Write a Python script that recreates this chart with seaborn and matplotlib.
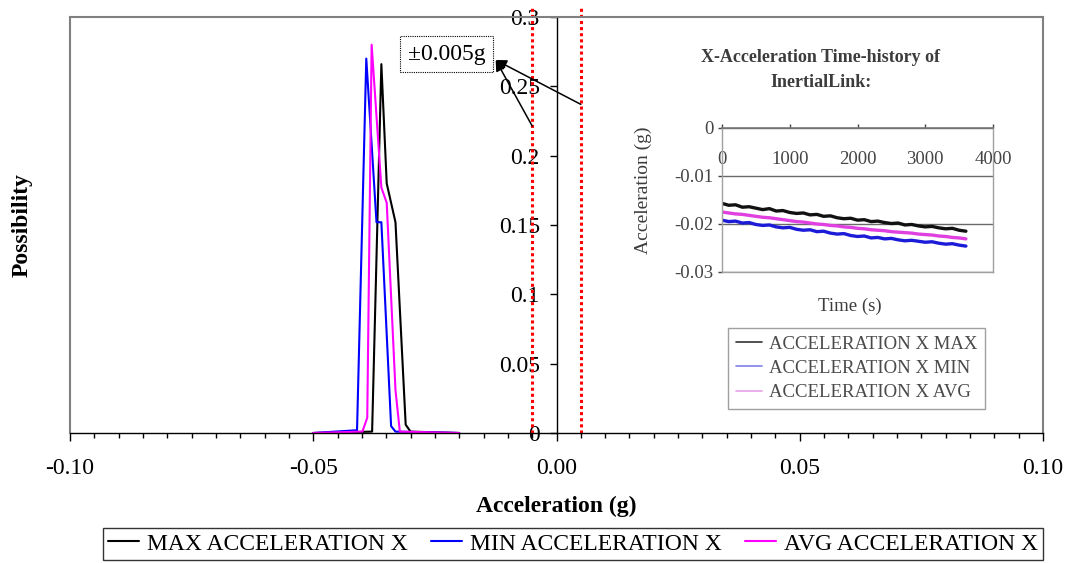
import numpy as np
import pandas as pd
import matplotlib
matplotlib.use('Agg')
import matplotlib.pyplot as plt
from matplotlib.lines import Line2D
from matplotlib.ticker import FixedLocator, FixedFormatter, MultipleLocator
import seaborn as sns

# ---------------- main chart data (histogram of acceleration) ----------------
series_names = ['MAX ACCELERATION X', 'MIN ACCELERATION X', 'AVG ACCELERATION X']
series_colors = ['#000000', '#0000ff', '#ff00ff']

max_acc = [-0.050, -0.0379, -0.0360, -0.0349, -0.0331, -0.0310, -0.0300, -0.020]
max_pos = [0.0, 0.001, 0.266, 0.180, 0.152, 0.006, 0.001, 0.0]

min_acc = [-0.050, -0.0410, -0.0391, -0.0370, -0.0360, -0.0340, -0.0331, -0.020]
min_pos = [0.0, 0.002, 0.270, 0.152, 0.152, 0.005, 0.001, 0.0]

avg_acc = [-0.050, -0.0399, -0.0389, -0.0380, -0.0360, -0.0349, -0.0331, -0.0322, -0.020]
avg_pos = [0.0, 0.001, 0.011, 0.280, 0.177, 0.166, 0.031, 0.001, 0.0]

x_ticks = [-0.10, -0.05, 0.00, 0.05, 0.10]
x_tick_labels = ['-0.10', '-0.05', '0.00', '0.05', '0.10']
y_ticks = [0, 0.05, 0.1, 0.15, 0.2, 0.25, 0.3]
y_tick_labels = ['0', '0.05', '0.1', '0.15', '0.2', '0.25', '0.3']

band_limits = [-0.005, 0.005]
band_label = '±0.005g'

# ---------------- inset data (time history) ----------------
inset_names = ['ACCELERATION X MAX', 'ACCELERATION X MIN', 'ACCELERATION X AVG']
inset_colors = ['#111111', '#1c1cd8', '#e040e0']
inset_legend_colors = ['#333333', '#8080ee', '#e8a0e8']

times = [0, 100, 200, 300, 400, 500, 600, 700, 800, 900,
         1000, 1100, 1200, 1300, 1400, 1500, 1600, 1700, 1800, 1900,
         2000, 2100, 2200, 2300, 2400, 2500, 2600, 2700, 2800, 2900,
         3000, 3100, 3200, 3300, 3400, 3500, 3600]

acc_max = [-0.0157, -0.0161, -0.0160, -0.0165, -0.0164, -0.0167, -0.0170, -0.0168, -0.0173, -0.0172,
           -0.0176, -0.0178, -0.0177, -0.0181, -0.0180, -0.0184, -0.0183, -0.0187, -0.0189, -0.0188,
           -0.0192, -0.0191, -0.0195, -0.0194, -0.0197, -0.0199, -0.0198, -0.0202, -0.0201, -0.0204,
           -0.0206, -0.0205, -0.0208, -0.0210, -0.0209, -0.0213, -0.0215]
acc_min = [-0.0192, -0.0195, -0.0194, -0.0198, -0.0197, -0.0201, -0.0203, -0.0202, -0.0206, -0.0208,
           -0.0207, -0.0211, -0.0213, -0.0212, -0.0216, -0.0215, -0.0219, -0.0221, -0.0220, -0.0224,
           -0.0226, -0.0225, -0.0229, -0.0228, -0.0231, -0.0230, -0.0233, -0.0235, -0.0234, -0.0236,
           -0.0238, -0.0237, -0.0240, -0.0242, -0.0241, -0.0244, -0.0246]
acc_avg = [-0.0175, -0.0177, -0.0179, -0.0180, -0.0182, -0.0184, -0.0186, -0.0187, -0.0189, -0.0191,
           -0.0193, -0.0195, -0.0196, -0.0198, -0.0200, -0.0201, -0.0203, -0.0204, -0.0206, -0.0207,
           -0.0209, -0.0210, -0.0212, -0.0213, -0.0214, -0.0216, -0.0217, -0.0218, -0.0219, -0.0221,
           -0.0222, -0.0223, -0.0225, -0.0226, -0.0228, -0.0229, -0.0231]

inset_x_ticks = [0, 1000, 2000, 3000, 4000]
inset_x_labels = ['0', '1000', '2000', '3000', '4000']
inset_y_ticks = [0, -0.01, -0.02, -0.03]
inset_y_labels = ['0', '-0.01', '-0.02', '-0.03']

# ---------------- style ----------------
sns.set_style('white')
plt.rcParams['font.family'] = ['Liberation Serif', 'DejaVu Serif']
plt.rcParams['text.color'] = 'black'
plt.rcParams['axes.labelcolor'] = 'black'

W, H = 1071, 563
fig = plt.figure(figsize=(W / 100, H / 100), dpi=100)
ax = fig.add_axes([70 / W, 1 - 433 / H, 973 / W, 416 / H])

df = pd.concat([
    pd.DataFrame({'Acceleration': max_acc, 'Possibility': max_pos, 'Series': series_names[0]}),
    pd.DataFrame({'Acceleration': min_acc, 'Possibility': min_pos, 'Series': series_names[1]}),
    pd.DataFrame({'Acceleration': avg_acc, 'Possibility': avg_pos, 'Series': series_names[2]}),
], ignore_index=True)

sns.lineplot(data=df, x='Acceleration', y='Possibility', hue='Series',
             hue_order=series_names, palette=series_colors, sort=False,
             estimator=None, linewidth=1.5, legend=False, ax=ax)
for ln in ax.lines:
    ln.set_clip_on(False)

ax.set_xlim(-0.1, 0.1)
ax.set_ylim(0, 0.3)
ax.xaxis.set_major_locator(FixedLocator(x_ticks))
ax.xaxis.set_major_formatter(FixedFormatter(x_tick_labels))
ax.xaxis.set_minor_locator(MultipleLocator(0.005))
ax.yaxis.set_major_locator(FixedLocator(y_ticks))
ax.yaxis.set_major_formatter(FixedFormatter(y_tick_labels))

ax.spines['left'].set_position(('data', 0))
ax.spines['left'].set_color('black')
ax.spines['left'].set_linewidth(1.0)
ax.spines['bottom'].set_color('black')
ax.spines['bottom'].set_linewidth(1.0)
for s in ['top', 'right']:
    ax.spines[s].set_color('#808080')
    ax.spines[s].set_linewidth(1.5)
ax.plot([0, 0], [0, 1], transform=ax.transAxes, color='#808080', lw=1.5, clip_on=False)

ax.tick_params(axis='x', which='major', bottom=True, direction='out', length=6, width=1,
               labelsize=17, pad=12, colors='black')
ax.tick_params(axis='x', which='minor', bottom=True, direction='out', length=3.5, width=1, colors='black')
ax.tick_params(axis='y', which='major', left=True, direction='out', length=5, width=1,
               labelsize=17, pad=7, colors='black')

ax.set_xlabel('Acceleration (g)', fontsize=17, fontweight='bold')
ax.xaxis.set_label_coords(0.5, -0.152)
ax.set_ylabel('Possibility', fontsize=17, fontweight='bold')
ax.yaxis.set_label_coords(-0.038, 0.5)

# tolerance band lines
for b in band_limits:
    ax.plot([b, b], [0, 0.307], color='red', lw=2.2, linestyle=(0, (1, 1)),
            solid_capstyle='butt', dash_capstyle='butt', clip_on=False, zorder=1)

# annotation box and arrows
ax.text(-0.0226, 0.2733, band_label, ha='center', va='center', fontsize=17,
        bbox=dict(boxstyle='square,pad=0.33', fc='white', ec='black', ls=(0, (1, 1)), lw=0.8),
        zorder=5)
tip = (-0.0125, 0.269)
for start in [(band_limits[0], 0.2214), (band_limits[1], 0.237)]:
    ax.annotate('', xy=tip, xytext=start,
                arrowprops=dict(arrowstyle='-|>', color='black', lw=1.1,
                                mutation_scale=16, shrinkA=0, shrinkB=0),
                zorder=6)

# main legend
handles = [Line2D([], [], color=c, lw=1.5) for c in series_colors]
leg = fig.legend(handles, series_names, loc='upper left', bbox_to_anchor=(103 / W, 1 - 528 / H),
                 ncol=3, frameon=True, fancybox=False, edgecolor='black', fontsize=17,
                 handlelength=1.3, handletextpad=0.35, columnspacing=0.98,
                 borderpad=0.22, borderaxespad=0)
leg.get_frame().set_linewidth(1.0)

# ---------------- inset ----------------
axi = fig.add_axes([722 / W, 1 - 272 / H, 271 / W, 144 / H])
dfi = pd.concat([
    pd.DataFrame({'Time': times, 'Acc': acc_max, 'Series': inset_names[0]}),
    pd.DataFrame({'Time': times, 'Acc': acc_min, 'Series': inset_names[1]}),
    pd.DataFrame({'Time': times, 'Acc': acc_avg, 'Series': inset_names[2]}),
], ignore_index=True)
sns.lineplot(data=dfi, x='Time', y='Acc', hue='Series', hue_order=inset_names,
             palette=inset_colors, sort=False, estimator=None, linewidth=2.4,
             legend=False, ax=axi)
axi.set_xlim(0, 4000)
axi.set_ylim(-0.03, 0)
axi.xaxis.set_major_locator(FixedLocator(inset_x_ticks))
axi.xaxis.set_major_formatter(FixedFormatter(inset_x_labels))
axi.yaxis.set_major_locator(FixedLocator(inset_y_ticks))
axi.yaxis.set_major_formatter(FixedFormatter(inset_y_labels))
axi.grid(axis='y', color='#6a6a6a', lw=1.0)
axi.grid(axis='x', visible=False)
axi.set_axisbelow(True)
for s in ['left', 'right', 'bottom']:
    axi.spines[s].set_color('#a0a0a0')
    axi.spines[s].set_linewidth(1.0)
axi.spines['top'].set_color('#777777')
axi.spines['top'].set_linewidth(1.2)
axi.tick_params(axis='x', top=True, bottom=False, labeltop=True, labelbottom=False,
                direction='out', length=3, width=1, pad=-32, labelsize=13.5, colors='#444444')
axi.tick_params(axis='y', left=True, direction='out', length=3, width=1, pad=3,
                labelsize=13.5, colors='#444444')
axi.set_xlabel('')
axi.set_ylabel('')

icol = '#3c3c3c'
fig.text(820 / W, 1 - 57 / H, 'X-Acceleration Time-history of', ha='center', va='center',
         fontsize=13, fontweight='bold', color=icol)
fig.text(821 / W, 1 - 83 / H, 'InertialLink:', ha='center', va='center',
         fontsize=13, fontweight='bold', color=icol)
fig.text(850 / W, 1 - 306 / H, 'Time (s)', ha='center', va='center', fontsize=13.5, color=icol)
fig.text(643 / W, 1 - 190 / H, 'Acceleration (g)', ha='center', va='center', rotation=90,
         fontsize=14, color=icol)

ihandles = [Line2D([], [], color=c, lw=1.2) for c in inset_legend_colors]
ileg = axi.legend(ihandles, inset_names, loc='upper left', bbox_to_anchor=(728 / W, 1 - 328 / H),
                  bbox_transform=fig.transFigure, fontsize=13.5, frameon=True, fancybox=False,
                  edgecolor='#888888', handlelength=1.4, handletextpad=0.4, borderpad=0.4,
                  labelspacing=0.38, borderaxespad=0)
ileg.get_frame().set_linewidth(1.0)
for t in ileg.get_texts():
    t.set_color('#4a4a4a')

fig.savefig('out.png', dpi=100)
